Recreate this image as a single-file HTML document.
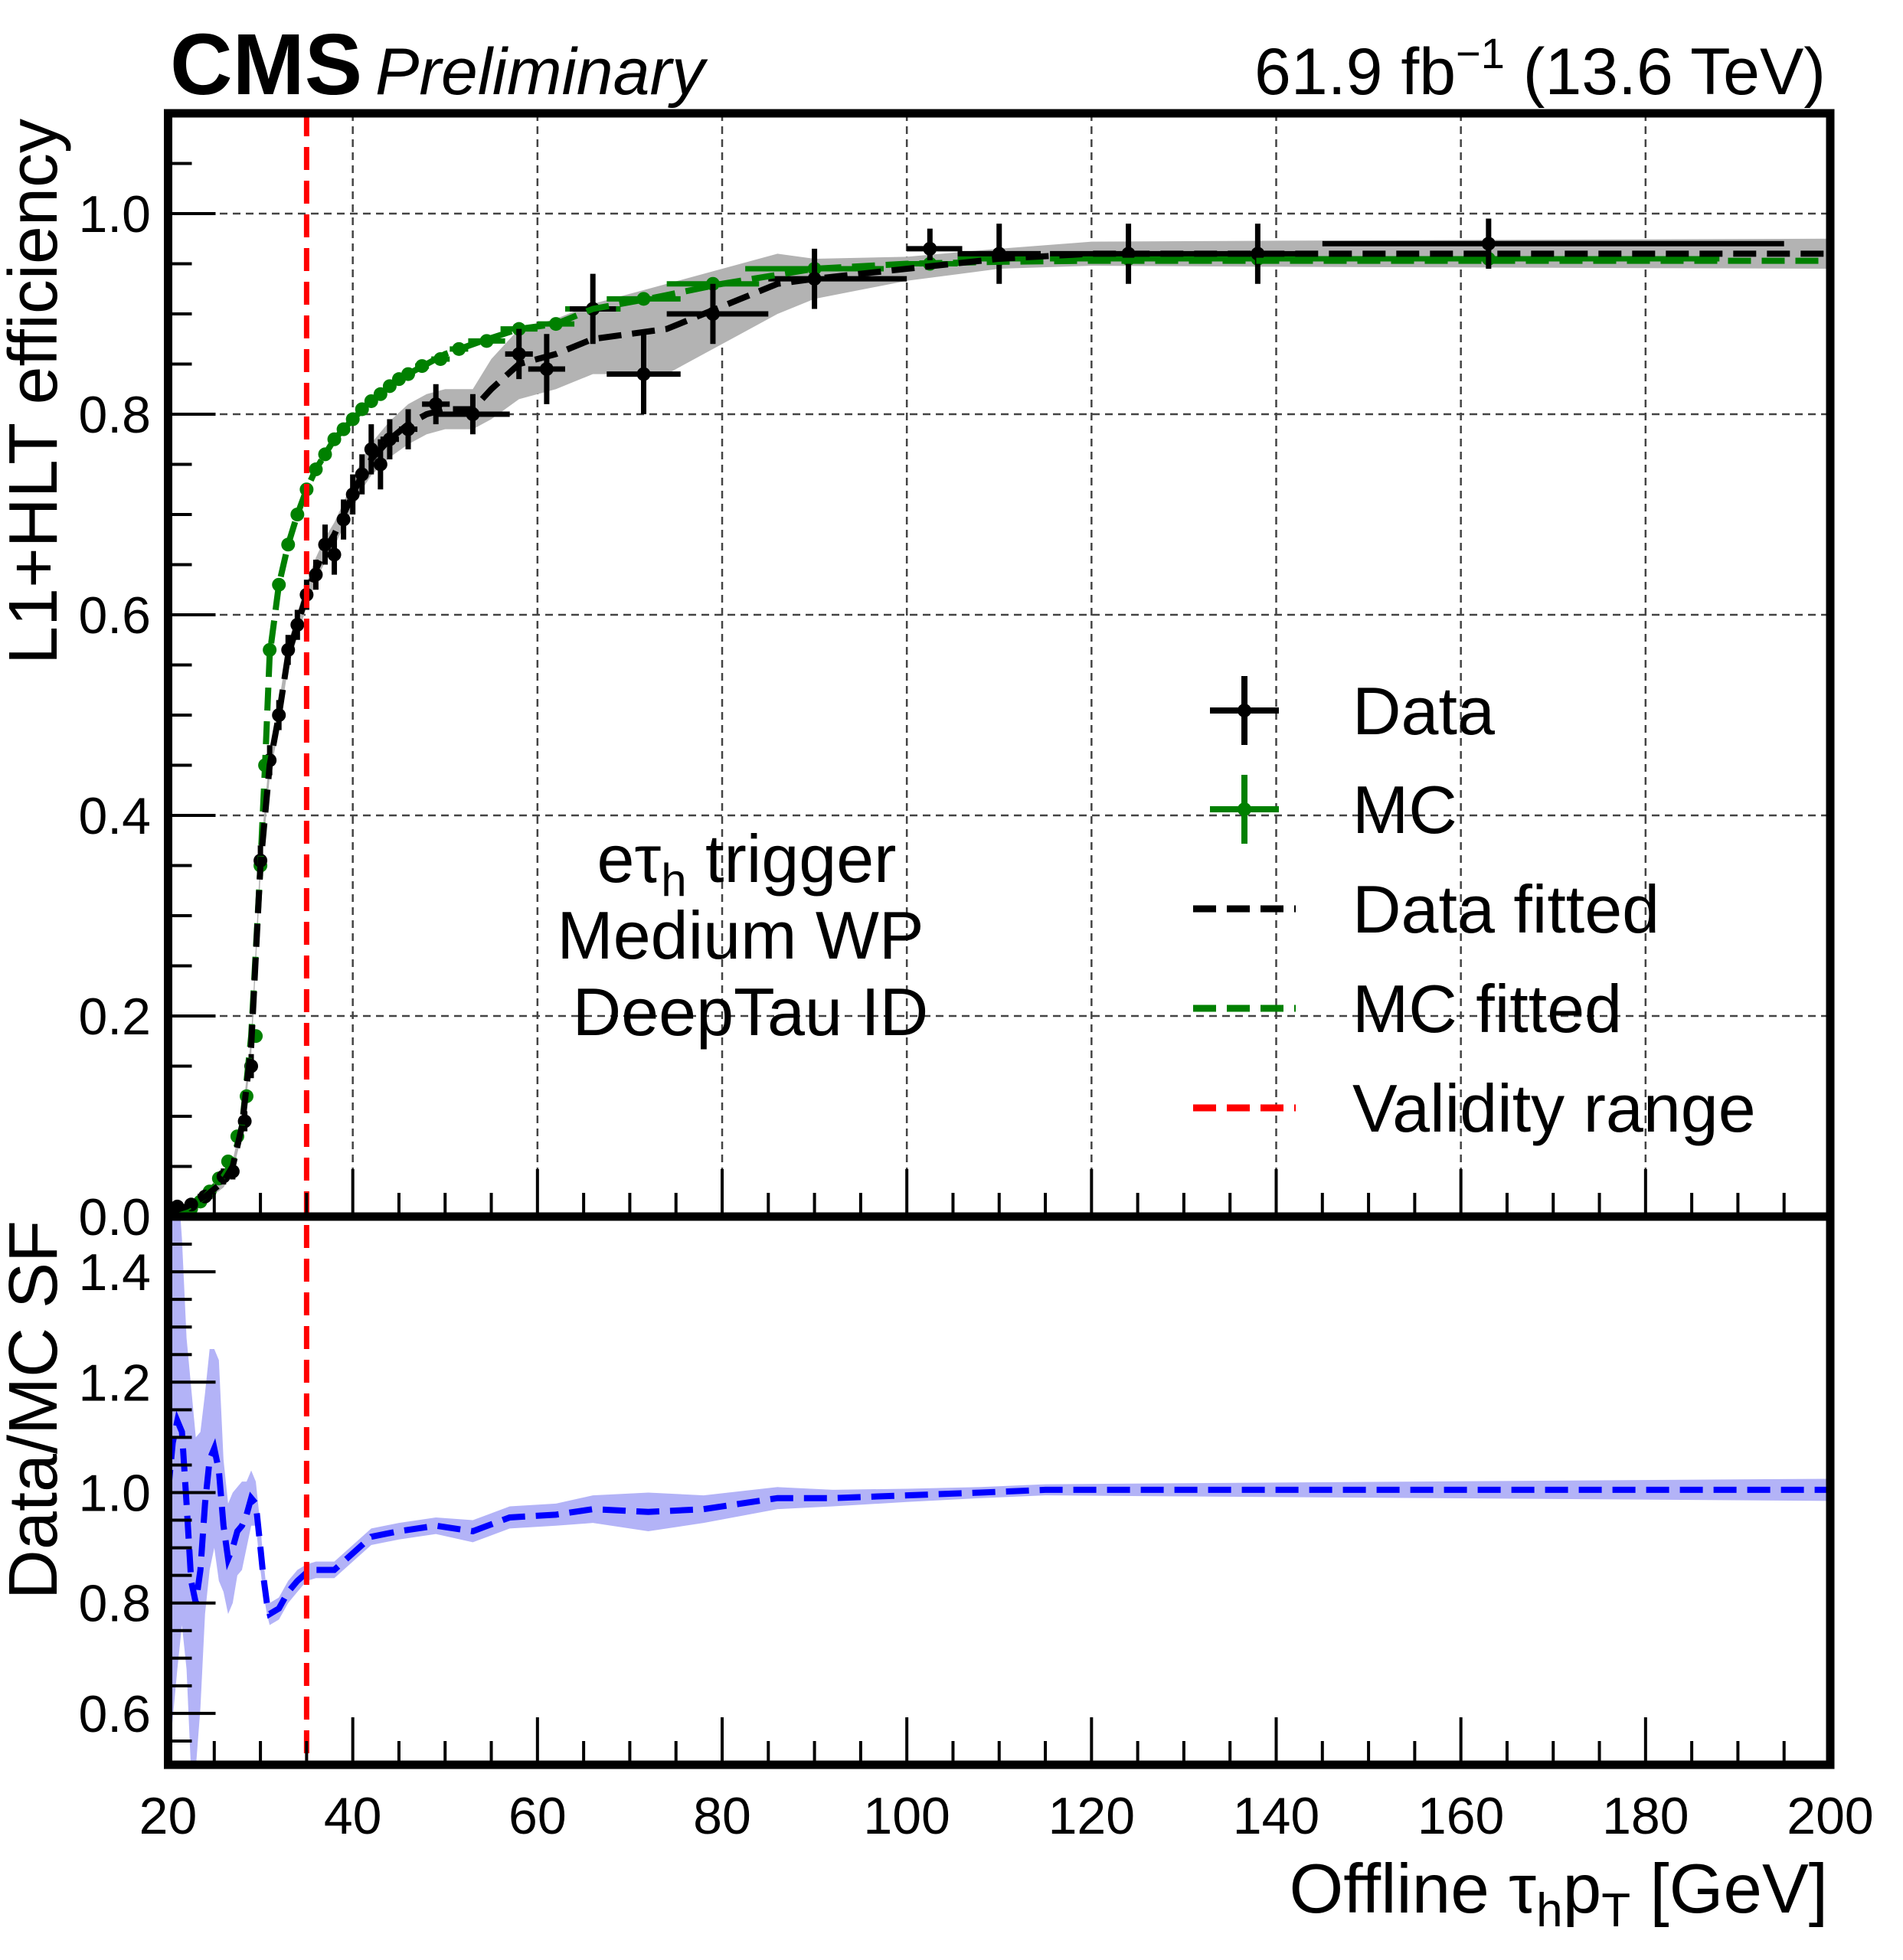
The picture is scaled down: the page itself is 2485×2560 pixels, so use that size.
<!DOCTYPE html>
<html><head><meta charset="utf-8">
<style>
html,body{margin:0;padding:0;background:#fff;}
svg{display:block;font-family:"Liberation Sans",sans-serif;}
</style></head>
<body>
<svg id="chart" width="2485" height="2560" viewBox="0 0 2485 2560" xmlns="http://www.w3.org/2000/svg">
<defs>
<clipPath id="clipTop"><rect x="219" y="148" width="2171" height="1441"/></clipPath>
<clipPath id="clipBot"><rect x="219" y="1589" width="2171" height="716"/></clipPath>
</defs>
<g id="grid"></g>
<g id="topMarks" clip-path="url(#clipTop)"></g>
<g id="botMarks" clip-path="url(#clipBot)"></g>
<g id="axes"></g>
<text x="222" y="123" font-size="113" font-weight="bold">CMS</text>
<text x="490" y="123" font-size="86" font-style="italic">Preliminary</text>
<text x="2384" y="123" font-size="86" text-anchor="end">61.9 fb<tspan dy="-34" font-size="56">−1</tspan><tspan dy="34"> (13.6 TeV)</tspan></text>
<text transform="translate(74,155) rotate(-90)" font-size="90" text-anchor="end">L1+HLT efficiency</text>
<text transform="translate(74,1594) rotate(-90)" font-size="90" text-anchor="end">Data/MC SF</text>
<text x="2387" y="2498" font-size="91" text-anchor="end">Offline τ<tspan dy="18" font-size="62">h</tspan><tspan dy="-18">p</tspan><tspan dy="18" font-size="62">T</tspan><tspan dy="-18"> [GeV]</tspan></text>
<g font-size="88" text-anchor="middle">
<text x="975" y="1152">eτ<tspan dy="18" font-size="60">h</tspan><tspan dy="-18"> trigger</tspan></text>
<text x="967" y="1252">Medium WP</text>
<text x="980" y="1352">DeepTau ID</text>
</g>
<g id="legend"></g>
</svg>
<script>
// ---- data ----
const dataX = [21,22.5,24,26,27,28.3,29,30,31,32,33,34,35,36,37,38,39,40,41,42,43,44,46,49,53,58,61,66,71.5,79,90,102.5,110,124,138,163];
const dataY = [0.01,0.012,0.02,0.04,0.045,0.095,0.15,0.355,0.455,0.5,0.565,0.59,0.62,0.64,0.67,0.66,0.695,0.72,0.74,0.765,0.75,0.775,0.785,0.81,0.80,0.86,0.845,0.905,0.84,0.9,0.935,0.965,0.96,0.96,0.96,0.97];
const dataXErrLo = [0.5,0.7,0.8,0.5,0.5,0.5,0.5,0.5,0.5,0.5,0.5,0.5,0.5,0.5,0.5,0.5,0.5,0.5,0.5,0.5,0.5,1,1,1.5,4,1.5,2,2.5,4,5,5,2.5,4.5,8.5,6.5,18];
const dataXErrHi = [0.5,0.7,0.8,0.5,0.5,0.5,0.5,0.5,0.5,0.5,0.5,0.5,0.5,0.5,0.5,0.5,0.5,0.5,0.5,0.5,0.5,1,1,1.5,4,1.5,2,2.5,4,6,10,3.5,4.5,8.5,6.5,32];
const dataYErr = [0.005,0.005,0.006,0.008,0.008,0.01,0.012,0.015,0.015,0.015,0.015,0.015,0.015,0.015,0.02,0.02,0.02,0.02,0.02,0.025,0.025,0.02,0.02,0.02,0.02,0.025,0.035,0.035,0.04,0.03,0.03,0.02,0.03,0.03,0.03,0.025];
const mcX = [20.5,21.5,22.5,23.5,24.5,25.5,26.5,27.5,28.5,29.5,30,30.5,31,32,33,34,35,36,37,38,39,40,41,42,43,44,45,46,47.5,49.5,51.5,54.5,58,62,66,71.5,79,90,102.5,110,124,138,163];
const mcY = [0.003,0.005,0.008,0.015,0.025,0.038,0.055,0.08,0.12,0.18,0.35,0.45,0.565,0.63,0.67,0.70,0.725,0.745,0.76,0.775,0.785,0.795,0.805,0.813,0.82,0.828,0.835,0.84,0.848,0.855,0.865,0.873,0.885,0.89,0.905,0.915,0.93,0.945,0.95,0.955,0.955,0.955,0.955];
const mcXErr = [0.5,0.5,0.5,0.5,0.5,0.5,0.5,0.5,0.5,0.5,0.25,0.25,0.25,0.5,0.5,0.5,0.5,0.5,0.5,0.5,0.5,0.5,0.5,0.5,0.5,0.5,0.5,0.5,0.75,1,1,2,2,2,3,4,5,7.5,3,4.5,8.5,6.5,25];
const dataFitX = [20,22,24,26,27,28,29,30,31,32,33,34,35,36,37,38,39,40,41,42,44,46,48,50,53,55,58,62,66,70,74,78,82,86,90,100,110,120,140,200];
const dataFitY = [0.004,0.01,0.02,0.035,0.05,0.09,0.17,0.35,0.45,0.5,0.56,0.59,0.62,0.645,0.665,0.68,0.70,0.72,0.74,0.755,0.775,0.79,0.80,0.805,0.805,0.825,0.85,0.86,0.875,0.88,0.885,0.90,0.915,0.93,0.935,0.945,0.955,0.96,0.96,0.96];
const dataFitErr = [0.003,0.004,0.005,0.006,0.006,0.008,0.01,0.012,0.012,0.012,0.012,0.012,0.012,0.012,0.012,0.012,0.012,0.014,0.015,0.016,0.018,0.02,0.02,0.02,0.02,0.03,0.035,0.035,0.035,0.04,0.045,0.04,0.035,0.03,0.02,0.012,0.01,0.012,0.013,0.015];
const mcFitX = [20,22,24,26,27,28,29,30,30.5,31,32,33,34,35,36,37,38,39,40,42,44,46,48,50,54,58,62,66,72,80,90,100,110,120,200];
const mcFitY = [0.003,0.008,0.02,0.04,0.055,0.09,0.18,0.35,0.45,0.56,0.63,0.67,0.70,0.725,0.745,0.76,0.775,0.785,0.795,0.813,0.828,0.84,0.85,0.86,0.873,0.885,0.89,0.905,0.915,0.93,0.945,0.95,0.952,0.953,0.953];
const sfX = [20,20.5,21,21.5,22,22.5,23,23.5,24,24.5,25,25.5,26,26.5,27,27.5,28,28.5,29,29.5,30,30.3,30.7,31,32,33,34,35,36,37,38,40,42,45,49,53,57,62,66,72,78,86,92,100,108,115,130,200];
const sfY = [1.0,1.09,1.13,1.11,0.98,0.84,0.80,0.86,0.98,1.06,1.08,1.04,0.94,0.88,0.90,0.93,0.94,0.96,0.99,0.98,0.90,0.85,0.80,0.78,0.79,0.82,0.84,0.855,0.86,0.86,0.86,0.89,0.92,0.93,0.94,0.93,0.955,0.96,0.97,0.965,0.97,0.99,0.99,0.995,1.0,1.005,1.005,1.005];
const sfErr = [0.5,0.5,0.45,0.35,0.3,0.35,0.3,0.25,0.2,0.2,0.18,0.2,0.12,0.1,0.1,0.08,0.08,0.06,0.05,0.04,0.04,0.03,0.02,0.02,0.02,0.02,0.02,0.015,0.015,0.015,0.015,0.015,0.015,0.015,0.015,0.02,0.02,0.02,0.025,0.035,0.025,0.02,0.015,0.012,0.01,0.01,0.012,0.02];
const xTicks = [20,40,60,80,100,120,140,160,180,200];
const yTopTicks = [0.0,0.2,0.4,0.6,0.8,1.0];
const yBotTicks = [0.6,0.8,1.0,1.2,1.4];
const validity = 35;

// ---- scales ----
const NS = "http://www.w3.org/2000/svg";
function X(v){ return 219.5 + (v-20)*2170.5/180; }
function YT(e){ return 1589 - e*1310; }
function YB(r){ return 1589 + (1.5-r)*721; }
function mk(tag, attrs, parent){ const e=document.createElementNS(NS,tag); for(const k in attrs) e.setAttribute(k,attrs[k]); parent.appendChild(e); return e; }
const gridG=document.getElementById('grid'), topG=document.getElementById('topMarks'), botG=document.getElementById('botMarks'), axesG=document.getElementById('axes'), legendG=document.getElementById('legend');

xTicks.slice(1,-1).forEach(v=>{
  const l=mk('line',{x1:X(v),x2:X(v),y1:148,y2:1589,stroke:'#444','stroke-width':2.5,'stroke-dasharray':'10 7'},gridG);
  
  
});
yTopTicks.slice(1).forEach(v=>{
  const l=mk('line',{x1:219,x2:2390,y1:YT(v),y2:YT(v),stroke:'#444','stroke-width':2.5,'stroke-dasharray':'10 7'},gridG);
  
  
});

function bandPath(xs,ys,errs,xf,yf){
  let d='';
  xs.forEach((x,i)=>{ d+=(i?'L':'M')+xf(x)+','+yf(ys[i]+errs[i]); });
  for(let i=xs.length-1;i>=0;i--) d+='L'+xf(xs[i])+','+yf(ys[i]-errs[i]);
  return d+'Z';
}
function linePath(xs,ys,xf,yf){ return xs.map((x,i)=>(i?'L':'M')+xf(x)+','+yf(ys[i])).join(''); }

const band=mk('path',{d:bandPath(dataFitX,dataFitY,dataFitErr,X,YT),fill:'#b3b3b3'},topG);



mcX.forEach((x,i)=>{
  const g=mk('g',{},topG);
  
  
  mk('line',{x1:X(x-mcXErr[i]),x2:X(x+mcXErr[i]),y1:YT(mcY[i]),y2:YT(mcY[i]),stroke:'#008000','stroke-width':7},g);
  mk('circle',{cx:X(x),cy:YT(mcY[i]),r:9,fill:'#008000'},g);
});
dataX.forEach((x,i)=>{
  const g=mk('g',{},topG);
  
  
  mk('line',{x1:X(x-dataXErrLo[i]),x2:X(x+dataXErrHi[i]),y1:YT(dataY[i]),y2:YT(dataY[i]),stroke:'#000','stroke-width':7},g);
  mk('line',{x1:X(x),x2:X(x),y1:YT(dataY[i]-dataYErr[i]),y2:YT(dataY[i]+dataYErr[i]),stroke:'#000','stroke-width':7},g);
  mk('circle',{cx:X(x),cy:YT(dataY[i]),r:9,fill:'#000'},g);
});
const mcFit=mk('path',{d:linePath(mcFitX,mcFitY,X,YT),fill:'none',stroke:'#008000','stroke-width':8,'stroke-dasharray':'30 14'},topG);


const dFit=mk('path',{d:linePath(dataFitX,dataFitY,X,YT),fill:'none',stroke:'#000','stroke-width':8,'stroke-dasharray':'30 14'},topG);



const sfb=mk('path',{d:bandPath(sfX,sfY,sfErr,X,YB),fill:'#b3b3f7'},botG);


const sfl=mk('path',{d:linePath(sfX,sfY,X,YB),fill:'none',stroke:'#0000ff','stroke-width':8,'stroke-dasharray':'30 14'},botG);



const vl=mk('line',{x1:X(validity),x2:X(validity),y1:148,y2:2305,stroke:'#ff0000','stroke-width':7,'stroke-dasharray':'30 14'},axesG);



const f1=mk('rect',{x:219.5,y:148,width:2170.5,height:1441,fill:'none',stroke:'#000','stroke-width':11},axesG);


const f2=mk('rect',{x:219.5,y:1589,width:2170.5,height:716,fill:'none',stroke:'#000','stroke-width':11},axesG);



for(let v=25; v<200; v+=5){
  const major = v%20===0;
  const len = major?62:31;
  [1589,2305].forEach(yb=>{
    const t=mk('line',{x1:X(v),x2:X(v),y1:yb,y2:yb-len,stroke:'#000','stroke-width':4},axesG);
    
    
  });
}
xTicks.forEach(v=>{
  const t=mk('text',{x:X(v),y:2395,'font-size':68,'text-anchor':'middle'},axesG);
  t.textContent=v;
  
  
});
for(let k=1;k<=21;k++){
  const v=k*0.05; const major=(k%4===0);
  const t=mk('line',{x1:219.5,x2:219.5+(major?62:31),y1:YT(v),y2:YT(v),stroke:'#000','stroke-width':4},axesG);
  
  
}
yTopTicks.forEach(v=>{
  const t=mk('text',{x:197,y:YT(v)+24,'font-size':68,'text-anchor':'end'},axesG);
  t.textContent=v.toFixed(1);
  
  
});
for(let k=11;k<30;k++){
  const v=k*0.05; const major=(k%4===0);
  const t=mk('line',{x1:219.5,x2:219.5+(major?62:31),y1:YB(v),y2:YB(v),stroke:'#000','stroke-width':4},axesG);
  
  
}
yBotTicks.forEach(v=>{
  const t=mk('text',{x:197,y:YB(v)+24,'font-size':68,'text-anchor':'end'},axesG);
  t.textContent=v.toFixed(1);
  
  
});

const legY=[928,1057,1187,1317,1447];
const legLabels=['Data','MC','Data fitted','MC fitted','Validity range'];
legLabels.forEach((lab,i)=>{
  const g=mk('g',{},legendG);
  
  
  const y=legY[i];
  if(i<2){
    const c=i===0?'#000':'#008000';
    mk('line',{x1:1580,x2:1670,y1:y,y2:y,stroke:c,'stroke-width':8},g);
    mk('line',{x1:1625,x2:1625,y1:y-45,y2:y+45,stroke:c,'stroke-width':8},g);
    mk('circle',{cx:1625,cy:y,r:9,fill:c},g);
  } else {
    const c=['#000','#008000','#ff0000'][i-2];
    mk('line',{x1:1558,x2:1692,y1:y,y2:y,stroke:c,'stroke-width':9,'stroke-dasharray':'30 14'},g);
  }
  const t=mk('text',{x:1766,y:y+31,'font-size':88},g);
  t.textContent=lab;
});
</script>
</body></html>
